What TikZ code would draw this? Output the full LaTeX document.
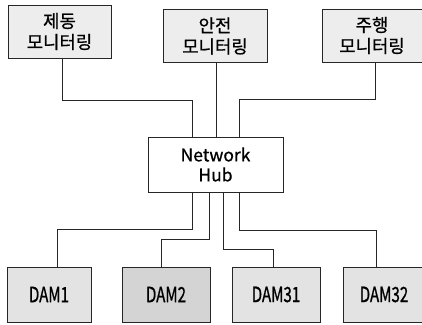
\documentclass[tikz,border=0pt]{standalone}
\usepackage{fontspec}
\setmainfont{Noto Sans CJK KR}[FakeBold=0.8]
\newfontfamily\damfont[FakeStretch=0.72,FakeBold=0.8]{Noto Sans CJK KR}
\newfontfamily\bodyfont[FakeBold=0.8]{Noto Sans CJK KR}
\begin{document}
\begin{tikzpicture}[x=1pt,y=1pt,
  topbox/.style={draw=black!85, line width=0.6pt, fill=gray!14, minimum width=103pt, minimum height=53pt,
    align=center, font=\bodyfont\fontsize{17.8}{21}\selectfont, inner sep=0pt},
  dambox/.style={draw=black!85, line width=0.6pt, fill=gray!22, minimum width=84pt, minimum height=55pt,
    font=\damfont\fontsize{21}{21}\selectfont, inner sep=0pt},
  hubbox/.style={draw=black!85, line width=0.6pt, fill=white, minimum width=135pt, minimum height=55pt,
    align=center, font=\bodyfont\fontsize{17.5}{20}\selectfont, inner sep=0pt},
  wire/.style={draw=black!85, line width=0.6pt}]
\useasboundingbox (0,0) rectangle (422,-324);
\clip (0,0) rectangle (422,-324);
% top boxes
\node[topbox] (b1) at (59.5,-31.5) {제동\\모니터링};
\node[topbox, minimum width=104pt] (b2) at (215,-36) {안전\\모니터링};
\node[topbox, minimum width=100pt] (b3) at (372,-35.5) {주행\\모니터링};
% hub
\node[hubbox] (hub) at (215.5,-164.5) {Network\\Hub};
% bottom boxes
\node[dambox] (d1) at (49,-294.5) {DAM1};
\node[dambox, minimum width=88pt, fill=gray!34] (d2) at (166,-294.5) {DAM2};
\node[dambox, minimum width=88pt] (d3) at (276,-294.5) {DAM31};
\node[dambox, minimum width=82pt] (d4) at (384,-294.5) {DAM32};
% hub ports
\coordinate (ht1) at ([xshift=-23.5pt]hub.north);
\coordinate (ht3) at ([xshift=23.5pt]hub.north);
\coordinate (hb1) at ([xshift=-23.5pt]hub.south);
\coordinate (hb2) at ([xshift=-6.5pt]hub.south);
\coordinate (hb3) at ([xshift=7.5pt]hub.south);
\coordinate (hb4) at ([xshift=23.5pt]hub.south);
% top wires
\draw[wire] ([xshift=2.5pt]b1.south) -- ++(0,-42) -| (ht1);
\draw[wire] ([xshift=1.5pt]b2.south) -- ([xshift=1.5pt]b2.south |- hub.north);
\draw[wire] ([xshift=3pt]b3.south) -- ++(0,-37) -| (ht3);
% bottom wires
\draw[wire] (hb1) -- ++(0,-37) -| ([xshift=8pt]d1.north);
\draw[wire] (hb2) -- ++(0,-47) -| ([xshift=-5pt]d2.north);
\draw[wire] (hb3) -- ++(0,-57) -| ([xshift=-3pt]d3.north);
\draw[wire] (hb4) -- ++(0,-38) -| ([xshift=-8pt]d4.north);
\end{tikzpicture}
\end{document}
